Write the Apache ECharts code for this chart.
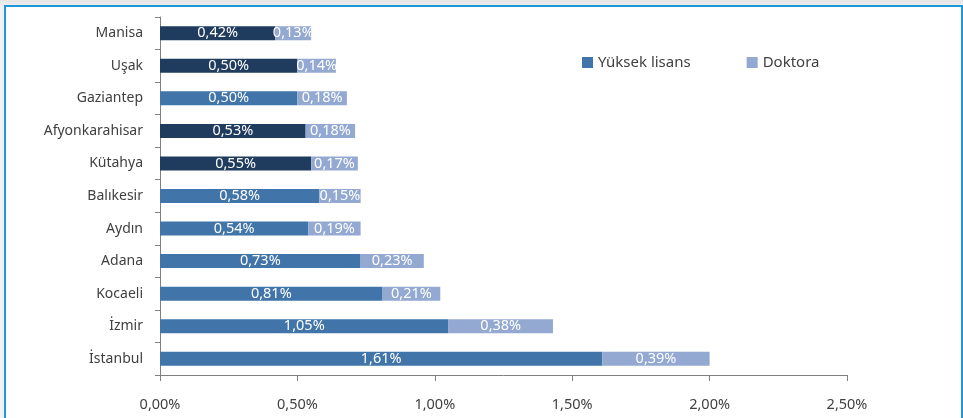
<!DOCTYPE html>
<html>
<head>
<meta charset="utf-8">
<script src="https://cdn.jsdelivr.net/npm/echarts@6/dist/echarts.min.js"></script>
<style>
html,body{margin:0;padding:0;width:963px;height:418px;overflow:hidden;background:linear-gradient(#e6e6e6,#f2f2f2 8px,#f2f2f2);}
#frame{position:absolute;left:4px;top:5px;width:955px;height:430px;border:2px solid #1C98DB;background:#fff;}
#chart{position:absolute;left:0;top:0;width:963px;height:418px;}
</style>
</head>
<body>
<div id="frame"></div>
<div id="chart"></div>
<script>
const categories = ['Manisa','Uşak','Gaziantep','Afyonkarahisar','Kütahya','Balıkesir','Aydın','Adana','Kocaeli','İzmir','İstanbul'];
const yuksekLisans = [0.42,0.50,0.50,0.53,0.55,0.58,0.54,0.73,0.81,1.05,1.61];
const doktora = [0.13,0.14,0.18,0.18,0.17,0.15,0.19,0.23,0.21,0.38,0.39];
const darkRows = ['Manisa','Uşak','Afyonkarahisar','Kütahya'];
const xTicks = [0,0.5,1,1.5,2,2.5];

const FONT = '"Noto Sans", "Open Sans", sans-serif';
const fmt = v => Number(v).toFixed(2).replace('.', ',') + '%';
const colMid = '#4174A8', colDark = '#1F3B5E', colLight = '#93A9D1';

const chart = echarts.init(document.getElementById('chart'));
chart.setOption({
  animation: false,
  backgroundColor: 'transparent',
  textStyle: {fontFamily: FONT},
  grid: {left: 160, right: 116, top: 17, bottom: 43},
  legend: {
    left: 582, top: 55, padding: 0, itemWidth: 11, itemHeight: 11, itemGap: 56, icon: 'rect',
    textStyle: {fontSize: 15, color: '#404040', fontFamily: FONT},
    data: ['Yüksek lisans','Doktora']
  },
  xAxis: {
    type: 'value', min: xTicks[0], max: xTicks[xTicks.length-1], interval: 0.5,
    axisLine: {show: true, lineStyle: {color: '#808080', width: 1}},
    axisTick: {show: true, length: 6, lineStyle: {color: '#808080'}},
    splitLine: {show: false},
    axisLabel: {formatter: fmt, fontSize: 14.5, color: '#404040', margin: 22, fontFamily: FONT}
  },
  yAxis: {
    type: 'category', inverse: true, data: categories,
    axisLine: {show: true, lineStyle: {color: '#808080', width: 1}},
    axisTick: {show: true, length: 5, lineStyle: {color: '#808080'}},
    axisLabel: {fontSize: 14, color: '#404040', margin: 17, fontFamily: FONT}
  },
  series: [
    {
      name: 'Yüksek lisans', type: 'bar', stack: 'a', barWidth: 14,
      itemStyle: {color: colMid},
      data: yuksekLisans.map((v,i) => ({value: v, itemStyle: {color: darkRows.includes(categories[i]) ? colDark : colMid}})),
      label: {show: true, position: 'inside', color: '#fff', fontSize: 14.5, fontFamily: FONT, formatter: p => fmt(p.value)}
    },
    {
      name: 'Doktora', type: 'bar', stack: 'a', barWidth: 14,
      itemStyle: {color: colLight},
      data: doktora,
      label: {show: true, position: 'inside', color: '#fff', fontSize: 14.5, fontFamily: FONT, formatter: p => fmt(p.value)}
    }
  ]
});
</script>
</body>
</html>
